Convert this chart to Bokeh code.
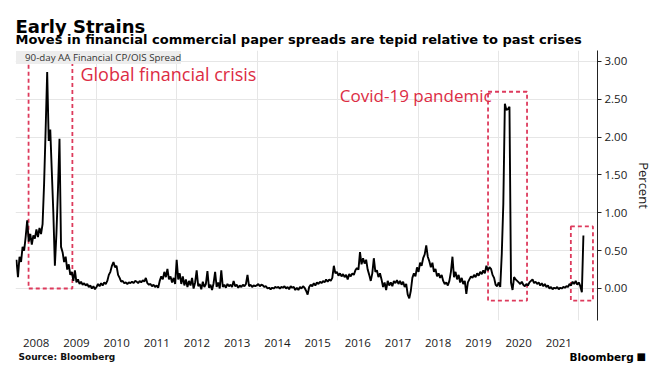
import numpy as np
import pandas as pd
from bokeh.plotting import figure
from bokeh.layouts import column
from bokeh.models import Range1d, FixedTicker, Label, Legend, LegendItem
from bokeh.embed import file_html
from bokeh.resources import INLINE

TITLE = "Early Strains"
SUBTITLE = "Moves in financial commercial paper spreads are tepid relative to past crises"
SERIES_NAME = "90-day AA Financial CP/OIS Spread"
SOURCE = "Source: Bloomberg"
BRAND = "Bloomberg"
Y_TITLE = "Percent"

# one observation every two weeks, first on this date
start_date = "2008-01-04"

spread_2008 = [0.38, 0.15, 0.42, 0.35, 0.55, 0.50, 0.68, 0.90, 0.62, 0.72, 0.58, 0.70, 0.66,
               0.78, 0.68, 0.80, 0.72, 0.85, 1.39, 2.10, 2.86, 1.95, 2.10, 1.55, 1.00, 0.30]
spread_2009 = [0.72, 1.30, 1.98, 0.55, 0.48, 0.35, 0.42, 0.25, 0.32, 0.18, 0.22, 0.10, 0.24,
               0.08, 0.12, 0.06, 0.09, 0.05, 0.07, 0.04, 0.06, 0.02, 0.04, 0.00, 0.03, -0.01]
spread_2010 = [0.02, 0.06, 0.03, 0.07, 0.04, 0.08, 0.06, 0.10, 0.18, 0.22, 0.30, 0.35, 0.28,
               0.30, 0.18, 0.14, 0.09, 0.10, 0.07, 0.08, 0.06, 0.08, 0.07, 0.09, 0.07, 0.10]
spread_2011 = [0.09, 0.07, 0.10, 0.08, 0.11, 0.09, 0.14, 0.07, 0.05, 0.06, 0.03, 0.05, 0.02,
               0.04, 0.01, 0.10, 0.16, 0.12, 0.22, 0.15, 0.26, 0.12, 0.16, 0.08, 0.14, 0.06]
spread_2012 = [0.38, 0.12, 0.20, 0.06, 0.16, 0.04, 0.12, 0.02, 0.10, 0.04, 0.14, 0.00, 0.08,
               0.24, 0.03, 0.06, -0.01, 0.09, 0.02, 0.06, 0.23, 0.01, 0.05, -0.02, 0.07, 0.22]
spread_2013 = [0.02, 0.08, 0.00, 0.24, 0.02, 0.05, 0.01, 0.06, 0.03, 0.05, 0.02, 0.10, 0.03,
               0.05, 0.01, 0.04, 0.02, 0.05, 0.03, 0.06, 0.18, 0.03, 0.05, 0.02, 0.04, 0.03]
spread_2014 = [0.04, 0.06, 0.03, 0.05, 0.04, 0.02, 0.03, 0.00, 0.01, -0.01, 0.01, 0.00, 0.02,
               0.01, 0.02, 0.00, 0.02, 0.01, 0.03, 0.00, 0.02, -0.01, 0.03, 0.01, 0.02, -0.02]
spread_2015 = [0.01, -0.02, 0.02, 0.00, 0.03, 0.01, -0.03, -0.08, 0.02, 0.05, 0.03, 0.07, 0.04,
               0.08, 0.06, 0.09, 0.07, 0.10, 0.08, 0.12, 0.09, 0.12, 0.10, 0.14, 0.30, 0.20]
spread_2016 = [0.22, 0.17, 0.20, 0.16, 0.19, 0.15, 0.18, 0.12, 0.19, 0.16, 0.20, 0.18, 0.24,
               0.27, 0.25, 0.48, 0.32, 0.40, 0.33, 0.38, 0.25, 0.18, 0.10, 0.20, 0.40, 0.22]
spread_2017 = [0.24, 0.15, 0.20, 0.12, 0.02, 0.08, -0.02, 0.10, 0.04, 0.08, 0.03, 0.10, 0.07,
               0.11, 0.06, 0.10, 0.05, 0.09, 0.02, 0.06, -0.08, -0.13, -0.03, 0.14, 0.20, 0.16]
spread_2018 = [0.28, 0.22, 0.34, 0.30, 0.40, 0.45, 0.57, 0.42, 0.36, 0.28, 0.34, 0.22, 0.26,
               0.16, 0.20, 0.14, 0.18, 0.10, 0.06, 0.08, 0.04, 0.10, 0.22, 0.42, 0.15, 0.22]
spread_2019 = [0.12, 0.18, 0.08, 0.14, 0.06, 0.10, -0.07, 0.08, 0.12, 0.16, 0.14, 0.18, 0.15,
               0.20, 0.17, 0.22, 0.19, 0.24, 0.20, 0.30, 0.24, 0.28, 0.26, 0.18, 0.14, 0.05]
spread_2020 = [0.03, 0.08, 0.02, 0.46, 1.12, 2.44, 2.36, 2.37, 2.40, 0.08, -0.02, 0.15, 0.12,
               0.10, 0.08, 0.06, 0.09, 0.05, 0.03, 0.06, 0.04, 0.08, 0.10, 0.12, 0.07, 0.09]
spread_2021 = [0.06, 0.08, 0.04, 0.07, 0.03, 0.06, 0.02, 0.04, 0.00, 0.02, -0.01, 0.01, 0.00,
               0.02, -0.01, 0.01, 0.00, 0.02, 0.01, 0.03, 0.02, 0.06, 0.04, 0.09, 0.06, 0.10]
spread_2022 = [0.05, 0.08, 0.03, -0.05, 0.70]

spread = (spread_2008 + spread_2009 + spread_2010 + spread_2011 + spread_2012 + spread_2013 +
          spread_2014 + spread_2015 + spread_2016 + spread_2017 + spread_2018 + spread_2019 +
          spread_2020 + spread_2021 + spread_2022)

year_labels = ["2008", "2009", "2010", "2011", "2012", "2013", "2014",
               "2015", "2016", "2017", "2018", "2019", "2020", "2021"]
grid_years = [2010, 2012, 2014, 2016, 2018, 2020, 2022]
y_ticks = [0.0, 0.5, 1.0, 1.5, 2.0, 2.5, 3.0]
y_tick_labels = ["0.00", "0.50", "1.00", "1.50", "2.00", "2.50", "3.00"]

# highlighted episodes (decimal years / percent)
box_left = [2008.31, 2019.74, 2021.80]
box_right = [2009.40, 2020.71, 2022.35]
box_bottom = [0.0, -0.16, -0.16]
box_top = [3.06, 2.60, 0.82]
gfc_text = "Global financial crisis"
covid_text = "Covid-19 pandemic"

dates = pd.date_range(start_date, periods=len(spread), freq="14D")
t = np.asarray(dates.year + (dates.dayofyear - 1) / np.where(dates.is_leap_year, 366, 365), dtype=float)

RED = "#dc2c44"
DASH_RED = "#dd3a5c"
W = 660
FRAME_L, FRAME_R = 15, 597


def text_strip(height):
    f = figure(width=W, height=height, y_range=Range1d(height, 0),
               output_backend="svg", toolbar_location=None,
               x_axis_location=None, y_axis_location=None, min_border=0)
    if hasattr(f, "frame_align"):
        f.frame_align = False
        f.x_range = Range1d(0, W)
    else:
        f.x_range = Range1d(FRAME_L, FRAME_R)
    f.outline_line_color = None
    f.grid.visible = False
    f.background_fill_color = "white"
    f.border_fill_color = "white"
    return f


# ---- header (titles) ----
header = text_strip(50)
header.add_layout(Label(x=15, y=25.5, text=TITLE, text_font="DejaVu Sans",
                        text_font_style="bold", text_font_size="18px",
                        text_color="black", text_baseline="alphabetic"))
header.add_layout(Label(x=15, y=39, text=SUBTITLE, text_font="DejaVu Sans",
                        text_font_style="bold", text_font_size="13px",
                        text_color="black", text_baseline="alphabetic"))

# ---- chart ----
p = figure(width=W, height=300,
           x_range=Range1d(2007.985, 2022.463), y_range=Range1d(-0.423, 3.145),
           y_axis_location="right", output_backend="svg", toolbar_location=None,
           min_border_left=FRAME_L, min_border_right=W - FRAME_R,
           min_border_top=0, min_border_bottom=30)
p.outline_line_color = None
p.background_fill_color = "white"
p.border_fill_color = "white"

p.xgrid.ticker = FixedTicker(ticks=grid_years)
p.xgrid.grid_line_color = "#e6e6e6"
p.ygrid.ticker = FixedTicker(ticks=y_ticks)
p.ygrid.grid_line_color = "#e6e6e6"

xa = p.xaxis[0]
xa.ticker = FixedTicker(ticks=[int(l) + 0.5 for l in year_labels])
xa.major_label_overrides = {int(l) + 0.5: l for l in year_labels}
xa.axis_line_color = None
xa.major_tick_line_color = None
xa.minor_tick_line_color = None
xa.major_tick_out = 0
xa.major_tick_in = 0
xa.major_label_standoff = 18
xa.major_label_text_font = "Open Sans"
xa.major_label_text_font_size = "11.5px"
xa.major_label_text_color = "#1a1a1a"

ya = p.yaxis[0]
ya.ticker = FixedTicker(ticks=y_ticks)
ya.major_label_overrides = {v: s for v, s in zip(y_ticks, y_tick_labels)}
ya.axis_line_color = "#222222"
ya.major_tick_line_color = "#222222"
ya.minor_tick_line_color = None
ya.major_tick_out = 4
ya.major_tick_in = 0
ya.major_label_standoff = 3
ya.major_label_text_font = "Open Sans"
ya.major_label_text_font_size = "11.5px"
ya.major_label_text_color = "#1a1a1a"
ya.axis_label = Y_TITLE
ya.axis_label_text_font = "Open Sans"
ya.axis_label_text_font_style = "normal"
ya.axis_label_text_font_size = "13px"
ya.axis_label_text_color = "#1a1a1a"
ya.axis_label_standoff = 5

# highlight boxes
p.quad(left=box_left, right=box_right, bottom=box_bottom, top=box_top,
       fill_color=None, line_color=DASH_RED, line_width=1.8, line_dash="4 3")

# series
p.line(t, spread, line_color="black", line_width=1.9)

# legend swatch
sw = p.quad(left=[], right=[], top=[], bottom=[], fill_color="black", line_color=None)
legend = Legend(items=[LegendItem(label=SERIES_NAME, renderers=[sw])],
                location="top_left", glyph_width=7, glyph_height=7, label_standoff=2,
                padding=8, margin=1, spacing=0, label_height=10,
                background_fill_color="#ededed", background_fill_alpha=1.0,
                border_line_color=None, label_text_font="Open Sans",
                label_text_font_size="9.75px", label_text_color="#333333")
p.add_layout(legend)

p.add_layout(Label(x=2009.60, y=2.835, text=gfc_text, text_font="Open Sans",
                   text_font_size="18px", text_color=RED, text_baseline="alphabetic"))
p.add_layout(Label(x=2019.83, y=2.55, text=covid_text, text_font="Open Sans",
                   text_font_size="17px", text_color=RED, text_baseline="alphabetic",
                   text_align="right"))

# ---- footer ----
footer = text_strip(21)
footer.add_layout(Label(x=18, y=6.5, text=SOURCE, text_font="DejaVu Sans",
                        text_font_style="bold", text_font_size="9px",
                        text_color="#111111", text_baseline="alphabetic"))
footer.add_layout(Label(x=569, y=6, text=BRAND, text_font="DejaVu Sans",
                        text_font_style="bold", text_font_size="10.5px",
                        text_color="black", text_baseline="alphabetic"))
footer.add_layout(Label(x=636, y=6, text="\u25a0", text_font="DejaVu Sans",
                        text_font_size="10px", text_color="black",
                        text_baseline="alphabetic"))

page = column(header, p, footer, spacing=0)
open("out.html", "w").write(file_html(page, INLINE))
